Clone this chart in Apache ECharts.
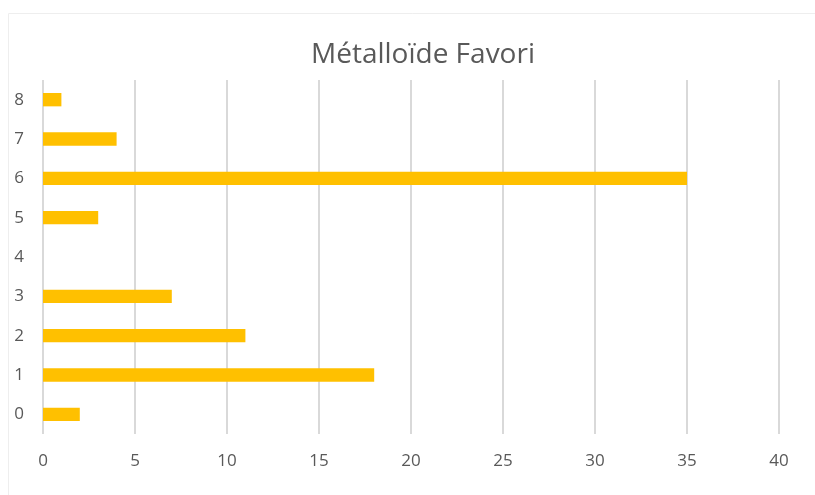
<!DOCTYPE html>
<html>
<head>
<meta charset="utf-8">
<script src="https://cdn.jsdelivr.net/npm/echarts@6/dist/echarts.min.js"></script>
<style>
  html, body { margin: 0; padding: 0; background: #fff; }
  #chart { width: 815px; height: 495px; }
</style>
</head>
<body>
<div id="chart"></div>
<script>
    // categories bottom-to-top, as on the y axis
    var categories = ['0', '1', '2', '3', '4', '5', '6', '7', '8'];
    var values = [2, 18, 11, 7, 0, 3, 35, 4, 1];
    var titleText = 'Métalloïde Favori';

    var myChart = echarts.init(document.getElementById('chart'));
    var option = {
        backgroundColor: '#fff',
        title: {
            text: titleText,
            left: 306,
            top: 36,
            textStyle: {
                fontFamily: 'Open Sans',
                fontSize: 28,
                fontWeight: 'normal',
                color: '#595959'
            }
        },
        graphic: [{
            type: 'rect',
            shape: { x: 8.5, y: 13.5, width: 830, height: 500 },
            style: { fill: 'none', stroke: '#eeeeee', lineWidth: 1 },
            silent: true
        }],
        grid: {
            left: 43,
            right: 36,
            top: 80,
            bottom: 61
        },
        xAxis: {
            type: 'value',
            min: 0,
            max: 40,
            interval: 5,
            axisLine: { show: false },
            axisTick: { show: false },
            splitLine: { show: true, lineStyle: { color: '#d9d9d9', width: 2 } },
            axisLabel: {
                margin: 19,
                fontFamily: 'Open Sans',
                fontSize: 17,
                color: '#595959'
            }
        },
        yAxis: {
            type: 'category',
            data: categories,
            axisLine: { show: false },
            axisTick: { show: false },
            axisLabel: {
                margin: 19,
                fontFamily: 'Open Sans',
                fontSize: 17,
                color: '#595959'
            }
        },
        series: [{
            type: 'bar',
            data: values,
            barWidth: '34%',
            itemStyle: { color: '#FFC000' }
        }]
    };
    myChart.setOption(option);
</script>
</body>
</html>
